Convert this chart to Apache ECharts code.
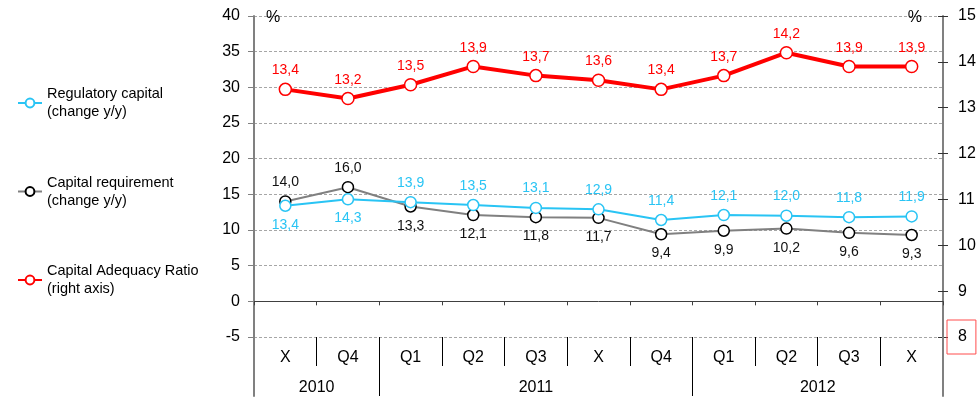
<!DOCTYPE html>
<html>
<head>
<meta charset="utf-8">
<script src="https://cdn.jsdelivr.net/npm/echarts@6/dist/echarts.min.js"></script>
<style>
  html, body { margin: 0; padding: 0; background: #fff; }
  #chart { width: 980px; height: 399px; }
</style>
</head>
<body>
<div id="chart"></div>
<script>
// Periods on the category axis and the years they belong to
const categories = ['X', 'Q4', 'Q1', 'Q2', 'Q3', 'X', 'Q4', 'Q1', 'Q2', 'Q3', 'X'];
const years = ['2010', '2011', '2012'];
const yearSpans = [2, 5, 4];

// Series values (%)
const regulatoryCapital = [13.4, 14.3, 13.9, 13.5, 13.1, 12.9, 11.4, 12.1, 12.0, 11.8, 11.9];
const capitalRequirement = [14.0, 16.0, 13.3, 12.1, 11.8, 11.7, 9.4, 9.9, 10.2, 9.6, 9.3];
const capitalAdequacyRatio = [13.4, 13.2, 13.5, 13.9, 13.7, 13.6, 13.4, 13.7, 14.2, 13.9, 13.9];

const seriesNames = [
  'Regulatory capital\n(change y/y)',
  'Capital requirement\n(change y/y)',
  'Capital Adequacy Ratio\n(right axis)'
];

// Year row: half-period slots so every year label can sit in the middle of its span
const yearSlots = new Array(categories.length * 2 + 1).fill('');
const yearBounds = [0];
let start = 0;
years.forEach((y, k) => {
  const end = start + yearSpans[k];
  yearSlots[start + end] = y;
  yearBounds.push(end * 2);
  start = end;
});

const font = '"Liberation Sans", Arial, Helvetica, sans-serif';
const cyan = '#29C4F4';
const gray = '#808080';
const red = '#FF0000';
const fmt = v => v.toFixed(1).replace('.', ',');

const chart = echarts.init(document.getElementById('chart'));

const blankAxisLine = (gridIndex, position) => ({
  type: 'value', gridIndex, position, min: 0, max: 1, z: 5,
  axisLine: { show: true, lineStyle: { color: gray, width: 2 } },
  axisTick: { show: false }, axisLabel: { show: false }, splitLine: { show: false }
});

chart.setOption({
  animation: false,
  textStyle: { fontFamily: font },
  legend: {
    orient: 'vertical',
    left: 17,
    top: 76,
    padding: 0,
    itemGap: 34.5,
    itemWidth: 24,
    itemHeight: 11,
    selectedMode: false,
    data: seriesNames,
    textStyle: { fontSize: 14.5, color: '#000', lineHeight: 18, padding: [18, 0, 0, 0] }
  },
  grid: [
    { left: 254, right: 37, top: 16, bottom: 62 },
    { left: 254, right: 37, top: 337, bottom: 3 }
  ],
  xAxis: [
    {
      type: 'category', gridIndex: 0, data: categories, boundaryGap: true,
      axisLine: { show: true, onZero: true, lineStyle: { color: '#404040', width: 1 } },
      axisTick: { show: true, length: 4, lineStyle: { color: '#404040' } },
      axisLabel: { show: false }, splitLine: { show: false }
    },
    {
      type: 'category', gridIndex: 1, position: 'top', data: categories, boundaryGap: true,
      axisLine: { show: false, onZero: false },
      axisTick: { show: true, inside: true, length: 29, lineStyle: { color: '#000' } },
      axisLabel: { inside: true, margin: 13, fontSize: 16, color: '#000' },
      splitLine: { show: false }
    },
    {
      type: 'category', gridIndex: 1, position: 'top', data: yearSlots, boundaryGap: false,
      axisLine: { show: false, onZero: false },
      axisTick: { show: true, inside: true, length: 59, interval: i => yearBounds.includes(i), lineStyle: { color: '#000' } },
      axisLabel: { inside: true, margin: 43, fontSize: 16, color: '#000', interval: (i, v) => v !== '' },
      splitLine: { show: false }
    }
  ],
  yAxis: [
    {
      type: 'value', gridIndex: 0, position: 'left', min: -5, max: 40, interval: 5,
      name: '%', nameLocation: 'end', nameGap: -2,
      nameTextStyle: { fontSize: 16, color: '#000', align: 'left', verticalAlign: 'middle', padding: [0, 0, 0, 12] },
      axisLine: { show: true, lineStyle: { color: gray, width: 2 } },
      axisTick: { show: true, length: 6, lineStyle: { color: gray } },
      axisLabel: { fontSize: 16, color: '#000', margin: 14 },
      splitLine: { show: true, lineStyle: { color: '#a6a6a6', width: 1, type: [3, 2] } }
    },
    {
      type: 'value', gridIndex: 0, position: 'right', min: 8, max: 15, interval: 1,
      name: '%', nameLocation: 'end', nameGap: -2,
      nameTextStyle: { fontSize: 16, color: '#000', align: 'right', verticalAlign: 'middle', padding: [0, 21, 0, 0] },
      axisLine: { show: true, lineStyle: { color: gray, width: 2 } },
      axisTick: { show: true, length: 5, lineStyle: { color: '#333' } },
      axisLabel: {
        margin: 4,
        formatter: v => (v === 8 ? '{box|8}' : '{n|' + v + '}'),
        rich: {
          n: { fontSize: 16, color: '#000', padding: [0, 0, 0, 11] },
          box: { fontSize: 16, color: '#000', padding: [9, 9, 9, 11], borderColor: '#FF4D4D', borderWidth: 1 }
        }
      },
      splitLine: { show: false }
    },
    {
      type: 'value', gridIndex: 0, position: 'right', min: 8, max: 15, interval: 1,
      axisLine: { show: false },
      axisTick: { show: true, inside: true, length: 5, lineStyle: { color: '#333' } },
      axisLabel: { show: false }, splitLine: { show: false }
    },
    blankAxisLine(1, 'left'),
    blankAxisLine(1, 'right')
  ],
  series: [
    {
      name: seriesNames[0], type: 'line', xAxisIndex: 0, yAxisIndex: 0, z: 3,
      data: regulatoryCapital.map((v, i) => ({
        value: v, label: { position: v < capitalRequirement[i] ? 'bottom' : 'top' }
      })),
      symbol: 'circle', symbolSize: 11,
      itemStyle: { color: '#fff', borderColor: cyan, borderWidth: 1.5 },
      lineStyle: { color: cyan, width: 2 },
      label: { show: true, color: cyan, fontSize: 14, distance: 6, formatter: p => fmt(p.value) }
    },
    {
      name: seriesNames[1], type: 'line', xAxisIndex: 0, yAxisIndex: 0, z: 2,
      data: capitalRequirement.map((v, i) => ({
        value: v, label: { position: v > regulatoryCapital[i] ? 'top' : 'bottom' }
      })),
      symbol: 'circle', symbolSize: 11,
      itemStyle: { color: '#fff', borderColor: '#000', borderWidth: 1.5 },
      lineStyle: { color: gray, width: 2 },
      label: { show: true, color: '#111', fontSize: 14, distance: 6, formatter: p => fmt(p.value) }
    },
    {
      name: seriesNames[2], type: 'line', xAxisIndex: 0, yAxisIndex: 1, z: 4,
      data: capitalAdequacyRatio,
      symbol: 'circle', symbolSize: 12,
      itemStyle: { color: '#fff', borderColor: red, borderWidth: 1.5 },
      lineStyle: { color: red, width: 4 },
      label: { show: true, position: 'top', color: red, fontSize: 14, distance: 5, formatter: p => fmt(p.value) }
    }
  ]
});
</script>
</body>
</html>
